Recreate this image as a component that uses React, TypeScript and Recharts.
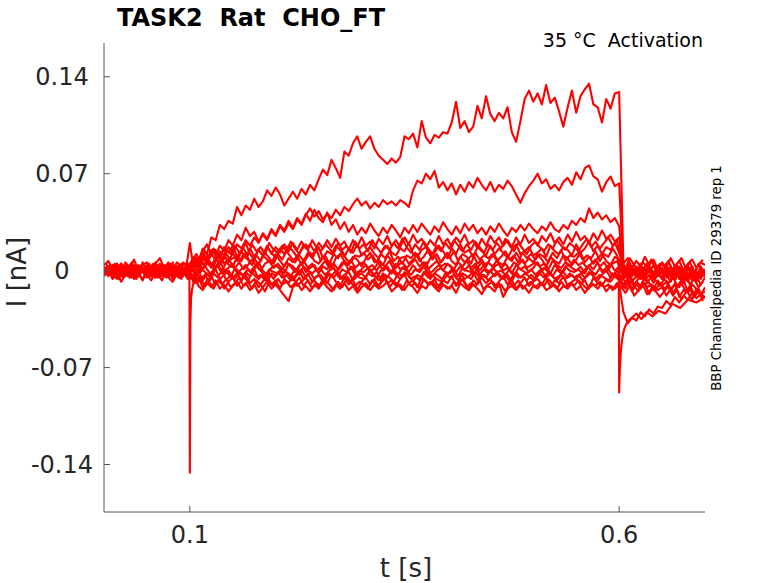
import { Line, LineChart, XAxis, YAxis } from "recharts";

const SAMPLE_STEP = 0.005;

const sweepTop = [
  2, -3, 4, -1, 5, -4, 1, 3, -2, 6,
  -1, 2, -5, 3, 0, 4, -3, 2, -1, 3,
  4, 10, 6, 16, 12, 24, 22, 33, 30, 36,
  34, 46, 40, 47, 44, 52, 46, 50, 58, 54,
  60, 55, 47, 52, 57, 52, 59, 55, 62, 58,
  66, 73, 69, 80, 74, 67, 86, 83, 92, 97,
  88, 93, 97, 88, 83, 80, 77, 81, 78, 82,
  97, 95, 99, 89, 108, 96, 92, 98, 96, 100,
  99, 107, 122, 103, 108, 100, 104, 119, 110, 126,
  113, 108, 114, 110, 118, 100, 93, 108, 124, 130,
  122, 128, 120, 134, 121, 125, 115, 104, 118, 130,
  114, 126, 131, 135, 120, 118, 107, 124, 117, 128,
  129, 4, -2, 3, -5, 1, -3, 4, -6, -1,
  2, -4, 0, -7, 3, -2, -5, 1, -8, -3,
  -4,
];

const sweepSecond = [
  -2, 3, -1, 5, -4, 2, 0, -3, 4, 1,
  -5, 2, 6, -2, 1, -4, 3, 0, 5, -3,
  2, 8, 4, 12, 8, 15, 11, 18, 14, 22,
  18, 26, 22, 31, 25, 28, 21, 26, 22, 29,
  25, 32, 28, 34, 30, 37, 33, 40, 45, 39,
  43, 37, 41, 38, 44, 40, 46, 43, 48, 52,
  47, 50, 45, 49, 46, 51, 48, 50, 47, 51,
  49, 46, 58, 65, 63, 70, 66, 72, 60, 64,
  58, 63, 55, 62, 57, 64, 60, 67, 62, 58,
  64, 57, 62, 59, 65, 61, 55, 49, 56, 61,
  65, 70, 63, 66, 59, 62, 58, 64, 67, 62,
  71, 66, 74, 76, 68, 66, 57, 64, 68, 61,
  63, -3, 5, -1, 2, -6, 0, 3, -4, 1,
  -6, 2, -3, 4, -1, -7, 0, 3, -5, -2,
  1,
];

const sweepThird = [
  3, -1, 2, -4, 5, 0, -2, 4, -3, 1,
  2, -4, 5, -1, 3, -2, 6, -3, 0, 2,
  0, 6, 2, 9, 5, 12, 8, 14, 11, 17,
  13, 19, 16, 22, 18, 24, 20, 27, 23, 30,
  26, 33, 29, 36, 31, 38, 34, 41, 36, 44,
  38, 35, 42, 33, 37, 30, 35, 28, 33, 26,
  31, 27, 34, 29, 25, 31, 27, 33, 29, 24,
  31, 27, 33, 28, 34, 30, 26, 32, 28, 35,
  30, 26, 32, 27, 34, 29, 33, 27, 31, 26,
  32, 28, 34, 29, 25, 31, 28, 33, 29, 34,
  30, 27, 32, 29, 35, 30, 28, 33, 30, 36,
  33, 38, 35, 45, 38, 42, 37, 40, 35, 38,
  32, 2, -4, 1, -2, 5, -3, 0, -6, 2,
  -1, 4, -5, -2, 1, -3, -8, 0, -4, 3,
  -2,
];

const sweepFourth = [
  -3, 1, 4, -2, 0, 3, -5, 2, -1, 5,
  1, -3, 2, 5, -2, 0, -4, 3, 1, -1,
  20, -2, 6, 1, 8, 3, 10, 4, 11, 6,
  13, 7, 14, 9, 16, 10, 15, 11, 18, 12,
  17, 13, 19, 14, 20, 15, 21, 16, 19, 14,
  20, 16, 22, 17, 23, 18, 21, 15, 22, 17,
  24, 18, 21, 16, 23, 19, 25, 18, 22, 17,
  24, 19, 26, 20, 23, 17, 22, 18, 25, 19,
  23, 17, 24, 20, 26, 19, 22, 16, 23, 18,
  25, 20, 24, 18, 22, 17, 24, 19, 26, 20,
  23, 18, 25, 21, 27, 20, 24, 19, 26, 21,
  28, 22, 25, 20, 27, 22, 29, 23, 26, 21,
  24, -5, 1, -3, 3, -1, -6, 2, -2, -4,
  1, -5, -2, 3, -6, -1, 2, -4, -7, 0,
  -3,
];

const sweepFifth = [
  4, 7, 1, 5, -1, 6, 2, 8, 0, 4,
  6, 1, 5, 9, 2, 4, 0, 6, 3, 5,
  5, 10, 8, 14, 19, 11, 15, 9, 17, 13,
  18, 10, 14, 20, 12, 8, 15, 11, 17, 13,
  9, 16, 12, 18, 14, 10, 15, 19, 11, 13,
  17, 9, 14, 12, 18, 15, 10, 16, 13, 19,
  11, 14, 17, 12, 9, 15, 18, 13, 11, 16,
  14, 20, 12, 10, 15, 17, 11, 13, 18, 14,
  9, 16, 12, 19, 13, 15, 10, 17, 14, 11,
  18, 12, 16, 13, 9, 15, 19, 12, 14, 17,
  11, 13, 16, 10, 18, 14, 12, 17, 15, 11,
  19, 13, 16, 21, 14, 18, 12, 17, 15, 20,
  13, 5, 9, 2, 7, 3, 10, 4, 8, 1,
  6, 2, 9, 3, 7, 0, 5, 8, 2, 6,
  4,
];

const sweepSixth = [
  -1, 3, -4, 2, 5, -2, 1, -5, 3, 0,
  4, -2, 1, -4, 2, 6, -1, 3, -3, 1,
  1, 9, 4, 11, 6, 2, 8, 12, 5, 9,
  3, 10, 7, 13, 6, 9, 4, 11, 8, 5,
  12, 7, 3, 9, 6, 11, 4, 8, 13, 7,
  5, 10, 6, 2, 9, 12, 7, 4, 10, 8,
  3, 9, 13, 6, 8, 4, 11, 7, 2, 9,
  10, 5, 8, 12, 6, 3, 9, 11, 5, 8,
  13, 7, 4, 10, 6, 9, 12, 5, 8, 3,
  9, 11, 6, 4, 10, 7, 13, 8, 5, 9,
  6, 12, 8, 3, 10, 7, 5, 11, 9, 4,
  8, 13, 6, 10, 5, 9, 12, 7, 4, 10,
  8, -2, 3, -4, 1, -6, 2, -1, 4, -3,
  -5, 0, 3, -7, 1, -2, 4, -4, -1, -6,
  0,
];

const sweepSeventh = [
  1, -4, 3, 0, -2, 4, -5, 1, -1, 2,
  -3, 0, 3, -5, 1, -2, 4, -1, -4, 2,
  -2, 4, -1, 6, 1, -3, 3, 7, 0, 2,
  5, -2, 1, 4, -1, 3, 6, 0, -3, 2,
  4, 1, -2, 5, 3, 0, 6, -1, 2, 4,
  -2, 3, 1, 5, -1, 2, 7, 0, 3, -3,
  1, 4, -1, 2, 6, 0, 3, -2, 5, 1,
  3, -1, 4, 0, 2, 6, -2, 1, 4, 0,
  5, 2, -1, 3, 0, 4, -3, 2, 6, 1,
  -1, 3, 5, 0, 2, -2, 4, 1, 3, -1,
  2, 6, 0, 3, -2, 4, 1, -1, 5, 2,
  0, 3, -2, 4, 1, 6, -1, 2, 5, 0,
  3, -6, -2, -8, -4, -1, -7, -3, -9, -2,
  -6, -3, -8, -1, -5, -9, -2, -7, -4, -10,
  -5,
];

const sweepEighth = [
  -2, 2, -5, 0, 3, -3, 1, -6, 2, -1,
  0, -4, 2, -2, 4, -5, 1, -3, 3, -1,
  -1, -5, 0, -7, -2, -4, 1, -6, -3, 0,
  -5, -2, -7, -1, -4, 1, -6, -3, -8, -2,
  -4, 0, -5, -2, -7, -3, 1, -5, -1, -6,
  -3, -8, -2, -4, 0, -6, -3, -1, -7, -4,
  -2, -5, 1, -4, -7, -2, -5, 0, -3, -6,
  -1, -4, -8, -3, -5, 0, -6, -2, -4, -7,
  -3, 1, -5, -2, -6, -4, -1, -7, -3, -5,
  0, -4, -2, -6, -3, -8, -1, -5, -2, -4,
  -7, -3, 0, -5, -2, -6, -4, -1, -5, -3,
  -6, -2, -5, -1, -4, -7, -3, 0, -5, -2,
  -4, -10, -6, -13, -8, -11, -5, -9, -14, -7,
  -11, -8, -15, -9, -12, -6, -16, -10, -13, -18,
  -12,
];

const sweepNinth = [
  0, -3, 2, -6, -1, 3, -4, 1, -2, -7,
  2, -1, -5, 1, -3, 0, -6, 2, -2, 0,
  -3, -9, -5, -12, -7, -4, -10, -6, -13, -8,
  -5, -11, -7, -3, -9, -6, -12, -8, -4, -10,
  -7, -13, -6, -9, -4, -11, -8, -5, -10, -7,
  -12, -6, -9, -3, -8, -11, -5, -10, -7, -14,
  -8, -5, -10, -6, -12, -4, -9, -7, -11, -6,
  -3, -9, -7, -12, -5, -8, -10, -6, -13, -7,
  -9, -4, -11, -6, -8, -14, -7, -10, -5, -9,
  -6, -12, -8, -4, -10, -7, -13, -9, -5, -11,
  -8, -6, -10, -5, -12, -7, -9, -4, -11, -8,
  -6, -10, -7, -13, -5, -9, -11, -6, -8, -4,
  -7, -12, -8, -15, -10, -13, -9, -17, -11, -14,
  -12, -18, -13, -10, -19, -14, -16, -21, -13, -17,
  -15,
];

const sweepTenth = [
  -4, 0, -6, -2, -8, -3, 1, -5, -2, -6,
  -3, -7, -1, -4, 0, -5, -8, -2, -6, -1,
  -6, -2, -11, -14, -9, -12, -7, -13, -10, -15,
  -11, -8, -13, -9, -14, -10, -16, -12, -8, -13,
  -10, -14, -18, -22, -12, -9, -14, -11, -15, -10,
  -13, -8, -12, -15, -10, -13, -9, -14, -11, -16,
  -12, -9, -14, -10, -13, -11, -8, -15, -12, -10,
  -14, -9, -12, -16, -11, -13, -8, -12, -15, -10,
  -13, -11, -16, -9, -12, -14, -10, -13, -17, -11,
  -12, -15, -9, -19, -13, -11, -14, -10, -12, -16,
  -11, -13, -9, -14, -12, -10, -15, -11, -13, -9,
  -14, -11, -16, -12, -10, -13, -9, -15, -11, -13,
  -10, -30, -38, -34, -36, -30, -33, -28, -31, -26,
  -27, -22, -25, -19, -23, -18, -21, -16, -20, -17,
  -19,
];

// sweeps recorded on the half-step grid (2.5 ms, 7.5 ms, ... 697.5 ms), pA
const sweepEleventh = [
  3, -2, 5, 0, -4, 2, 6, -1, 3, -3,
  1, 5, -2, 4, -5, 0, 3, -1, 6, 2,
  6, 12, 7, 14, 9, 16, 11, 8, 15, 12,
  18, 13, 16, 11, 19, 14, 17, 12, 20, 15,
  13, 18, 14, 21, 16, 12, 19, 15, 22, 17,
  14, 19, 16, 12, 20, 15, 18, 13, 21, 16,
  19, 14, 22, 17, 13, 18, 15, 20, 16, 23,
  17, 13, 19, 15, 21, 16, 12, 18, 14, 20,
  16, 22, 18, 14, 19, 15, 21, 17, 13, 19,
  15, 20, 16, 23, 18, 14, 20, 16, 12, 18,
  21, 17, 14, 19, 16, 22, 18, 15, 20, 17,
  14, 19, 23, 17, 21, 16, 20, 24, 18, 22,
  7, 2, 9, 4, 0, 6, 3, 8, 1, 5,
  3, 7, 0, 5, 9, 2, 6, -1, 4, 8,
];

const sweepTwelfth = [
  -2, 4, -1, 3, -5, 1, 4, -3, 2, -1,
  5, -2, 0, 3, -4, 2, -1, 4, -3, 0,
  4, 9, 5, 11, 7, 3, 10, 6, 12, 8,
  10, 6, 12, 8, 4, 11, 7, 13, 9, 5,
  12, 8, 14, 10, 6, 11, 7, 13, 9, 15,
  7, 11, 5, 12, 9, 14, 8, 6, 11, 10,
  13, 8, 11, 6, 12, 9, 14, 7, 10, 5,
  11, 9, 13, 7, 10, 15, 8, 12, 6, 11,
  9, 14, 7, 12, 10, 5, 13, 8, 11, 9,
  12, 7, 10, 14, 8, 11, 6, 13, 9, 12,
  8, 12, 10, 6, 13, 9, 15, 7, 11, 10,
  13, 8, 11, 9, 14, 7, 12, 10, 16, 11,
  2, -3, 4, -1, -5, 1, 5, -2, 0, 3,
  -4, 1, -2, 4, -6, 0, 2, -3, 5, -1,
];

const sweepThirteenth = [
  5, -1, 2, -4, 3, 0, -3, 4, -2, 1,
  -1, 3, -4, 2, 0, 5, -3, 1, -2, 4,
  1, 5, -1, 3, 7, 2, 4, 0, 6, 3,
  2, 6, 1, 4, 8, 3, 0, 5, 7, 2,
  5, 1, 6, 3, -1, 4, 7, 2, 5, 0,
  3, 7, 2, 5, 1, 6, 4, 8, 2, 5,
  6, 2, 4, 0, 5, 3, 7, 1, 4, 6,
  2, 5, 8, 3, 6, 1, 4, 7, 3, 5,
  4, 1, 6, 3, 7, 2, 5, 0, 4, 6,
  3, 7, 2, 5, 1, 6, 4, 8, 2, 4,
  6, 3, 5, 1, 7, 4, 2, 6, 3, 8,
  4, 6, 2, 5, 8, 3, 6, 1, 5, 7,
  -1, -5, 0, -3, 2, -6, -2, 1, -4, -1,
  -3, 0, -6, -2, 2, -5, -1, -7, -3, 1,
];

const sweepFourteenth = [
  -1, 2, -4, 1, -2, 3, -5, 0, 2, -3,
  1, -2, 3, -4, 0, 2, -1, -5, 1, -2,
  0, -3, 2, -1, -4, 1, 3, -2, 0, -5,
  2, -1, -3, 1, -2, 4, 0, -4, 1, -1,
  -2, 2, -1, -4, 1, -3, 3, 0, -2, 1,
  1, -3, 0, 2, -4, 1, -1, 3, -3, 0,
  -1, 2, -2, -5, 0, 3, -1, 1, -3, 2,
  0, -3, 1, -1, 3, -2, -4, 0, 2, -1,
  -2, 1, -4, 2, 0, -1, 3, -3, 1, -2,
  2, -1, 0, -3, 1, -4, 2, 0, -2, 1,
  -3, 0, 2, -1, -4, 1, -2, 3, 0, -1,
  1, -2, 3, 0, -3, 2, -1, 1, -4, 0,
  -5, -8, -3, -10, -6, -2, -9, -4, -7, -11,
  -6, -9, -4, -11, -7, -3, -10, -6, -12, -8,
];

const sweepFifteenth = [
  2, -3, 0, -6, 1, -2, 3, -4, -1, 0,
  -3, 1, -5, 2, -2, 0, -4, 3, -1, -6,
  -4, -1, -6, -3, -8, -2, -5, 0, -7, -3,
  -6, -2, -4, -8, -1, -5, -3, -7, -2, -6,
  -1, -5, -3, -7, -4, 0, -6, -2, -8, -4,
  -3, -7, -2, -5, -1, -6, -4, -8, -3, -5,
  -6, -2, -4, -1, -7, -3, -5, -8, -2, -4,
  -2, -6, -4, -7, -1, -5, -3, -6, -8, -2,
  -5, -3, -7, -2, -4, -6, -1, -5, -3, -7,
  -4, -1, -6, -3, -8, -2, -5, -4, -7, -3,
  -6, -2, -5, -1, -4, -7, -3, -6, -2, -5,
  -3, -7, -4, -1, -6, -3, -5, -8, -2, -4,
  -9, -13, -7, -11, -15, -8, -12, -10, -14, -9,
  -13, -10, -16, -12, -9, -15, -11, -17, -13, -20,
];

const sweepSixteenth = [
  -3, 1, -5, -1, 2, -4, 0, -6, -2, 1,
  -4, 0, -2, -7, -1, 3, -3, -5, 0, -2,
  -5, -9, -6, -11, -8, -13, -7, -10, -6, -12,
  -9, -5, -11, -8, -13, -7, -10, -15, -8, -11,
  -6, -10, -8, -12, -9, -5, -11, -7, -13, -9,
  -11, -7, -10, -14, -8, -12, -6, -9, -11, -8,
  -10, -13, -7, -11, -9, -5, -12, -8, -10, -14,
  -7, -11, -9, -13, -6, -10, -8, -12, -9, -11,
  -13, -8, -10, -6, -12, -9, -11, -7, -14, -10,
  -8, -12, -10, -15, -9, -11, -7, -13, -10, -8,
  -12, -9, -11, -6, -10, -13, -8, -12, -9, -11,
  -7, -10, -13, -9, -11, -8, -12, -10, -14, -9,
  -12, -16, -11, -18, -14, -10, -17, -13, -15, -19,
  -15, -11, -18, -14, -21, -16, -13, -19, -15, -22,
];

// capacitive transients at step on / step off, finer time resolution
const onsetTimes = [0.0995, 0.1, 0.1006, 0.1014, 0.1025, 0.104, 0.106, 0.109];
const onsetValues = [1, -146, -38, -20, -14, -9, -6, -3];

const offsetTimes = [
  0.5995, 0.6, 0.6008, 0.6018, 0.603, 0.6045, 0.606, 0.608, 0.611, 0.615, 0.62,
  0.626, 0.632, 0.639, 0.646, 0.654, 0.662, 0.671, 0.68, 0.69, 0.7,
];
const offsetValues = [
  3, -88, -72, -60, -52, -46, -42, -39, -36, -34, -31, -35, -30, -33, -29, -31,
  -24, -27, -21, -23, -19,
];

const sweeps = [
  sweepTop, sweepSecond, sweepThird, sweepFourth, sweepFifth,
  sweepSixth, sweepSeventh, sweepEighth, sweepNinth, sweepTenth,
];

const halfStepSweeps = [
  sweepEleventh, sweepTwelfth, sweepThirteenth,
  sweepFourteenth, sweepFifteenth, sweepSixteenth,
];

const xTicks = [0.1, 0.6];
const yTicks = [-0.14, -0.07, 0, 0.07, 0.14];

const FONT = '"DejaVu Sans", Verdana, sans-serif';
const INK = "#262626";
const TRACE = "#ff0000";
const TRACE_WIDTH = 2.1;

const toRows = (values: number[], offset = 0) =>
  values.map((v, i) => ({ t: offset + i * SAMPLE_STEP, v: v / 1000 }));

const pairRows = (times: number[], values: number[]) =>
  times.map((t, i) => ({ t, v: values[i] / 1000 }));

const traces = [
  ...sweeps.map((s) => toRows(s)),
  ...halfStepSweeps.map((s) => toRows(s, SAMPLE_STEP / 2)),
  pairRows(onsetTimes, onsetValues),
  pairRows(offsetTimes, offsetValues),
];

const XTick = (p: any) => (
  <text x={p.x} y={543} textAnchor="middle" fontSize={24} fontFamily={FONT} fill={INK}>
    {p.payload.value}
  </text>
);

const YTick = (p: any) => (
  <text x={62} y={p.y} dy="0.35em" textAnchor="middle" fontSize={24} fontFamily={FONT} fill={INK}>
    {p.payload.value}
  </text>
);

export default function App() {
  return (
    <div style={{ position: "absolute", left: 0, top: 0, width: 778, height: 583, background: "#fff" }}>
      <LineChart width={778} height={583} margin={{ top: 43, right: 73, bottom: 0, left: 0 }}>
        <XAxis
          dataKey="t"
          type="number"
          domain={[0, 0.7]}
          allowDataOverflow
          ticks={xTicks}
          tick={XTick}
          tickSize={-6}
          height={71}
          stroke="#555"
        />
        <YAxis
          type="number"
          domain={[-0.1743, 0.1644]}
          allowDataOverflow
          ticks={yTicks}
          tick={YTick}
          tickSize={-6}
          width={104}
          stroke="#555"
        />
        {traces.map((rows, i) => (
          <Line
            key={i}
            data={rows}
            dataKey="v"
            type="linear"
            stroke={TRACE}
            strokeWidth={TRACE_WIDTH}
            strokeLinejoin="round"
            dot={false}
            isAnimationActive={false}
          />
        ))}
      </LineChart>
      <svg
        width={778}
        height={583}
        style={{ position: "absolute", left: 0, top: 0, pointerEvents: "none" }}
        fontFamily={FONT}
      >
        <text x={117} y={26} fontSize={24} fontWeight="bold" fill="#000" xmlSpace="preserve" style={{ whiteSpace: "pre" }}>
          TASK2  Rat  CHO_FT
        </text>
        <text x={703} y={47} fontSize={19} textAnchor="end" fill="#000" xmlSpace="preserve" style={{ whiteSpace: "pre" }}>
          35 °C  Activation
        </text>
        <text x={406} y={577} fontSize={26} textAnchor="middle" fill={INK}>
          t [s]
        </text>
        <text transform="translate(26 272) rotate(-90)" fontSize={26} textAnchor="middle" fill={INK}>
          I [nA]
        </text>
        <text transform="translate(720.5 278) rotate(-90)" fontSize={13.3} textAnchor="middle" fill="#000">
          BBP Channelpedia ID 29379 rep 1
        </text>
      </svg>
    </div>
  );
}
